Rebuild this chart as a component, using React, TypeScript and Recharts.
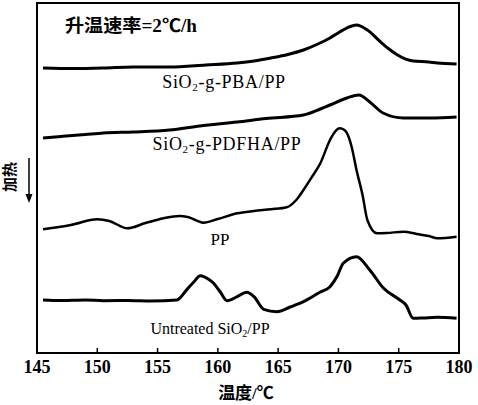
import React from 'react';
import { LineChart, Line, XAxis, YAxis, ReferenceArea, Customized } from 'recharts';

// temperatures (°C) and heat-flow readings (arbitrary units) for each trace
const pbaTemp = [145.5, 148, 150.5, 153, 156, 159, 161.6, 163, 164.4, 165.8, 167.1, 168.3, 169.3, 170.1, 170.7, 171.5, 172.4, 173.5, 174.2, 174.9, 176.2, 177.5, 178.2, 179.8];
const pbaHeat = [285, 284.5, 285, 286, 286, 288, 290, 292, 295, 298.5, 303, 309, 315, 321, 325, 328, 323, 311, 304, 298, 292, 291, 290, 289];

const pdfhaTemp = [145.5, 147, 149, 150.5, 153, 156, 158.5, 161.6, 164, 167.1, 168.5, 169.3, 170.7, 171.7, 172.6, 173.7, 175.4, 177.6, 179.8];
const pdfhaHeat = [215, 216.5, 218.5, 220, 221, 223, 227, 231, 234.5, 238, 244, 248, 255, 258, 251, 240, 235, 235, 236];

const ppTemp = [145.5, 147.8, 150, 151, 152.5, 154, 155.5, 156.8, 157.5, 158.8, 160, 161.6, 163, 164.4, 165.7, 166.5, 167.1, 167.8, 168.5, 169.3, 169.7, 170.1, 170.5, 170.85, 171.1, 171.5, 172, 172.4, 173.2, 174, 175.4, 176.5, 177.5, 178.2, 179.8];
const ppHeat = [123.7, 128, 133.7, 132, 124.7, 130, 134.7, 137, 136, 130.3, 134, 139.7, 142, 143.7, 145.7, 153, 163, 176, 189.7, 213, 221, 224.7, 223, 216, 206, 183, 158, 133, 119.7, 120, 121.3, 119, 117, 114.7, 116.3];

const untreatedTemp = [145.5, 147, 149, 150.5, 152.5, 154.5, 156.6, 157.4, 158, 158.55, 159.2, 159.65, 160.2, 160.76, 161.6, 162.4, 163, 163.8, 164.9, 166, 167.1, 168.5, 169.3, 169.9, 170.4, 171.5, 172.6, 173.75, 175.1, 175.6, 176.2, 177, 178.2, 179.8];
const untreatedHeat = [53, 52.5, 53, 52.3, 52.5, 52, 53, 63, 71, 77.3, 74, 69.7, 61, 52.3, 56.3, 60.7, 56.3, 43.7, 41.3, 46, 51.3, 61, 66.3, 77, 89.7, 96.3, 83, 64.7, 53, 48, 34.7, 35, 35.7, 34.7];

const xTicks = [145, 150, 155, 160, 165, 170, 175, 180];

const toRows = (temps: number[], heats: number[]) => temps.map((t, i) => ({ t, v: heats[i] }));

const serif = "'Liberation Serif', 'Noto Sans CJK SC', serif";

const BottomTick = (props: any) => {
  const { x, y, payload } = props;
  return (
    <g>
      <line x1={x} y1={y} x2={x} y2={y - 5} stroke="#000" strokeWidth={1.5} />
      <text x={x} y={y + 20} textAnchor="middle" fontFamily={serif} fontWeight="bold" fontSize={18} fill="#000">
        {payload.value}
      </text>
    </g>
  );
};

const Annotations = () => (
  <g fontFamily={serif} fill="#000">
    <text x={65} y={32} fontSize={18} fontWeight="bold" textLength={132} lengthAdjust="spacingAndGlyphs">升温速率=2℃/h</text>
    <text x={224} y={88} fontSize={18} textAnchor="middle" letterSpacing={0.7}>
      SiO<tspan fontSize={11} dy={3}>2</tspan><tspan dy={-3}>-g-PBA/PP</tspan>
    </text>
    <text x={227} y={150} fontSize={18} textAnchor="middle" letterSpacing={0.7}>
      SiO<tspan fontSize={11} dy={3}>2</tspan><tspan dy={-3}>-g-PDFHA/PP</tspan>
    </text>
    <text x={220} y={245} fontSize={17} textAnchor="middle">PP</text>
    <text x={210} y={334} fontSize={16} textAnchor="middle">
      Untreated SiO<tspan fontSize={10} dy={3}>2</tspan><tspan dy={-3}>/PP</tspan>
    </text>
    <text x={246} y={399} fontSize={17} fontWeight="bold" textAnchor="middle">温度/℃</text>
    <text
      x={10}
      y={177}
      fontSize={15}
      fontWeight="bold"
      textAnchor="middle"
      dominantBaseline="central"
      transform="rotate(-90, 10, 177)"
    >
      加热
    </text>
    <line x1={29} y1={158} x2={29} y2={196} stroke="#000" strokeWidth={1.5} />
    <path d="M25.5,194 L32.5,194 L29,203 Z" fill="#000" />
  </g>
);

export default function App() {
  return (
    <div style={{ position: 'absolute', left: 0, top: 0, width: 478, height: 405, background: '#fff' }}>
      <LineChart width={478} height={405} margin={{ top: 3, right: 19, left: 37, bottom: 0 }}>
        <XAxis
          dataKey="t"
          type="number"
          domain={[145, 180]}
          ticks={xTicks}
          height={52}
          axisLine={{ stroke: '#000', strokeWidth: 2 }}
          tickLine={false}
          tickSize={0}
          tickMargin={0}
          tick={<BottomTick />}
          allowDataOverflow
        />
        <YAxis hide type="number" domain={[0, 350]} />
        <ReferenceArea x1={145} x2={180} y1={0} y2={350} fill="none" stroke="#000" strokeWidth={2} />
        <Line data={toRows(pbaTemp, pbaHeat)} dataKey="v" type="monotone" stroke="#000" strokeWidth={3} dot={false} isAnimationActive={false} />
        <Line data={toRows(pdfhaTemp, pdfhaHeat)} dataKey="v" type="monotone" stroke="#000" strokeWidth={3} dot={false} isAnimationActive={false} />
        <Line data={toRows(ppTemp, ppHeat)} dataKey="v" type="monotone" stroke="#000" strokeWidth={2.5} dot={false} isAnimationActive={false} />
        <Line data={toRows(untreatedTemp, untreatedHeat)} dataKey="v" type="monotone" stroke="#000" strokeWidth={3} dot={false} isAnimationActive={false} />
        <Customized component={Annotations} />
      </LineChart>
    </div>
  );
}
